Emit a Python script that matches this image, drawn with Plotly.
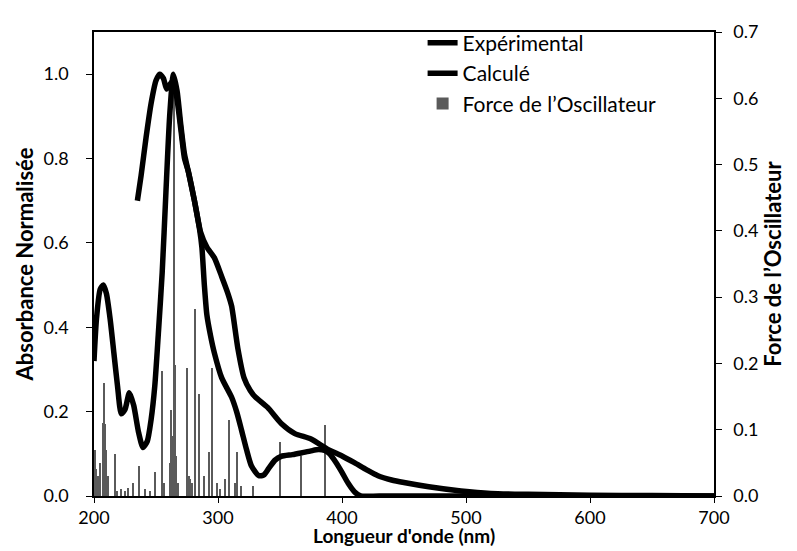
import plotly.graph_objects as go

# Experimental spectrum (normalised absorbance)
exp_wl = [235, 238, 242, 246, 250, 253, 256, 258.5, 261, 264, 267, 270, 273, 276, 281, 286, 291,
          297, 303, 308, 311, 316, 321, 326, 330, 340, 351, 362, 375, 389, 400, 410, 420, 429,
          440, 450, 470, 496, 520, 550, 600, 650, 700]
exp_abs = [0.70, 0.76, 0.85, 0.93, 0.985, 1.0, 0.99, 0.965, 0.975, 0.985, 0.94, 0.87, 0.80, 0.77,
           0.70, 0.625, 0.59, 0.565, 0.52, 0.48, 0.45, 0.35, 0.28, 0.25, 0.235, 0.21, 0.172, 0.148,
           0.135, 0.11, 0.095, 0.079, 0.062, 0.048, 0.038, 0.032, 0.022, 0.012, 0.006, 0.004,
           0.002, 0.001, 0.0]

# Calculated spectrum (normalised absorbance)
calc_wl = [200, 202, 205, 207.5, 210, 213, 216, 219, 222, 225, 228.5, 232, 236, 239.5, 243, 246,
           249, 252, 255, 258, 261, 264, 267, 270, 273, 276, 281, 285, 287, 289, 291, 294, 297,
           303, 311, 315, 319, 323, 327, 333, 337, 341, 346, 351, 360, 367, 375, 381, 386, 390,
           395, 400, 405, 410, 415, 430, 500, 600, 700]
calc_abs = [0.32, 0.42, 0.49, 0.50, 0.48, 0.42, 0.34, 0.26, 0.195, 0.205, 0.245, 0.215, 0.15,
            0.115, 0.13, 0.18, 0.26, 0.39, 0.53, 0.72, 0.90, 1.0, 0.96, 0.88, 0.81, 0.77, 0.70,
            0.635, 0.59, 0.50, 0.43, 0.38, 0.34, 0.28, 0.234, 0.20, 0.156, 0.11, 0.071, 0.048,
            0.050, 0.066, 0.085, 0.094, 0.098, 0.102, 0.107, 0.11, 0.108, 0.100, 0.08, 0.056,
            0.03, 0.01, 0.0, 0.0, 0.0, 0.0, 0.0]

# Oscillator strengths
osc_wl = [200.5, 201.5, 203, 205, 207, 207.8, 208.6, 210, 211.5, 216.7, 219, 222, 225, 227.6,
          231.7, 236, 241, 245, 249, 254.8, 256.8, 261, 262.4, 263.5, 264.5, 265.6, 266.5, 268,
          275, 276.5, 277.5, 279, 281.7, 284.9, 289, 292.5, 295.5, 299.5, 302, 305.4, 309,
          313.4, 315.3, 318.8, 328, 349.7, 367.2, 386.6]
osc_f = [0.07, 0.04, 0.03, 0.05, 0.11, 0.171, 0.109, 0.07, 0.03, 0.064, 0.008, 0.01, 0.008,
         0.012, 0.02, 0.046, 0.01, 0.008, 0.036, 0.188, 0.02, 0.05, 0.129, 0.09, 0.61, 0.198,
         0.06, 0.02, 0.193, 0.03, 0.025, 0.02, 0.282, 0.154, 0.03, 0.067, 0.193, 0.02, 0.01,
         0.025, 0.114, 0.02, 0.067, 0.015, 0.015, 0.082, 0.06, 0.107]

X_TITLE = "Longueur d'onde (nm)"
FONT = "Lato"

fig = go.Figure()
fig.add_trace(go.Bar(x=osc_wl, y=osc_f, width=1.0, name="Force de l\u2019Oscillateur",
                     marker=dict(color="#5a5a5a", line=dict(width=0)), yaxis="y",
                     legendrank=3))
fig.add_trace(go.Scatter(x=exp_wl, y=exp_abs, mode="lines", name="Exp\u00e9rimental",
                         line=dict(color="black", width=5.5, shape="spline", smoothing=0.6),
                         yaxis="y2", legendrank=1))
fig.add_trace(go.Scatter(x=calc_wl, y=calc_abs, mode="lines", name="Calcul\u00e9",
                         line=dict(color="black", width=5.5, shape="spline", smoothing=0.6),
                         yaxis="y2", legendrank=2))

tickfont = dict(family=FONT, size=18, color="black")
ytitlefont = dict(family=FONT, size=22, color="black", weight="bold")
xtitlefont = dict(family=FONT, size=19, color="black", weight="bold")

fig.update_layout(
    width=797, height=551,
    margin=dict(l=86, r=91, t=20, b=63),
    paper_bgcolor="white", plot_bgcolor="white",
    bargap=0,
    showlegend=True,
    legend=dict(x=0.53, y=1.02, xanchor="left", yanchor="top",
                font=dict(family=FONT, size=21, color="black"),
                bgcolor="rgba(0,0,0,0)", tracegroupgap=0, itemwidth=30),
    xaxis=dict(range=[200, 700], dtick=100, tick0=200, showgrid=False, zeroline=False,
               showline=True, linecolor="black", linewidth=1.5, mirror=True,
               ticks="outside", ticklen=5, tickcolor="black", tickfont=tickfont,
               ticklabelstandoff=0),
    yaxis=dict(range=[0, 0.7], dtick=0.1, tickformat=".1f", side="right", showgrid=False,
               zeroline=False, showline=True, linecolor="black", linewidth=1.5,
               ticks="outside", ticklen=6, tickcolor="black", tickfont=tickfont,
               ticklabelstandoff=8,
               title=dict(text="Force de l\u2019Oscillateur", font=ytitlefont, standoff=8)),
    yaxis2=dict(range=[0, 1.1], dtick=0.2, tickformat=".1f", side="left", overlaying="y",
                showgrid=False, zeroline=False, showline=True, linecolor="black",
                linewidth=1.5, ticks="outside", ticklen=6, tickcolor="black", tickfont=tickfont,
                ticklabelstandoff=14,
                title=dict(text="Absorbance Normalis\u00e9e", font=ytitlefont, standoff=4)),
    annotations=[dict(text=X_TITLE, xref="paper", yref="paper", x=0.5, y=-0.086,
                      xanchor="center", yanchor="middle", showarrow=False, font=xtitlefont,
                      borderpad=0)],
)

fig.write_html("out.html")
